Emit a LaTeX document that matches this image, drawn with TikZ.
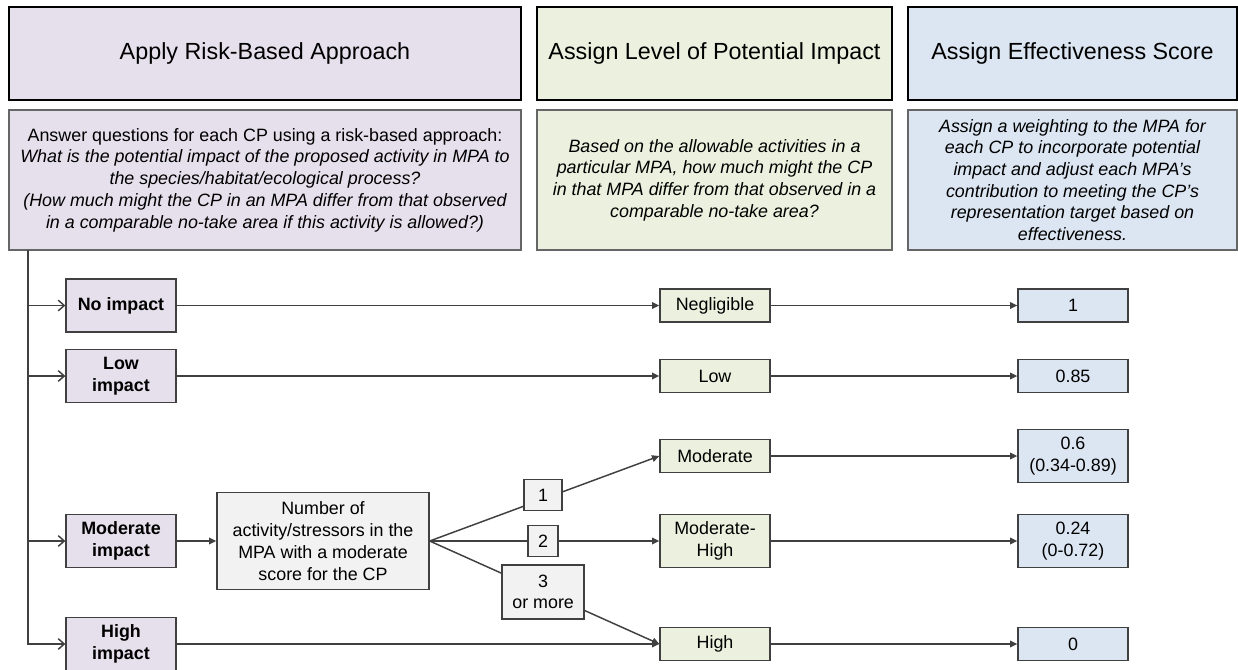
\documentclass[tikz,border=0pt]{standalone}
\usepackage{fontspec}
\setmainfont{Liberation Sans}
\usepackage{tikz}
\usetikzlibrary{arrows.meta, positioning}

\definecolor{riskfill}{HTML}{E5E0EC}
\definecolor{levelfill}{HTML}{EBF1DE}
\definecolor{scorefill}{HTML}{DCE6F2}
\definecolor{countfill}{HTML}{F2F2F2}
\definecolor{linegray}{HTML}{404040}

\begin{document}
\begin{tikzpicture}[
	x=0.75pt, y=-0.75pt,
	head/.style={draw=black, line width=1.8pt, align=center, minimum height=69.75pt, inner sep=2pt, font=\fontsize{17.5}{21}\selectfont},
	desc/.style={draw=black!60, line width=1.2pt, align=center, minimum height=105pt, inner sep=2pt, font=\fontsize{13.4}{16.3}\selectfont\itshape},
	cell/.style={draw=linegray, line width=1pt, align=center, inner sep=2pt, font=\fontsize{13.4}{16.3}\selectfont},
	impact/.style={cell, fill=riskfill, minimum width=82.5pt, minimum height=39.75pt, font=\fontsize{13.4}{16.3}\selectfont\bfseries},
	level/.style={cell, fill=levelfill, minimum width=82.5pt, minimum height=24.75pt},
	score/.style={cell, fill=scorefill, minimum width=82.5pt, minimum height=24.75pt},
	count/.style={cell, fill=countfill, minimum height=23.5pt},
	flow/.style={draw=linegray, line width=1.1pt, -{Triangle[length=5.5pt,width=5pt]}},
	branch/.style={draw=linegray, line width=1.1pt, -{Straight Barb[length=4.5pt,width=8pt]}}
	]
	
	\useasboundingbox (0,0) rectangle (1238,669);
	
	% ==================================================
	% Column headers
	% ==================================================
	\node[head, fill=riskfill, minimum width=384pt] (risk) at (265,53.5) {Apply Risk-Based Approach};
	\node[head, fill=levelfill, minimum width=266.25pt] (level) at (714.5,53.5) {Assign Level of Potential Impact};
	\node[head, fill=scorefill, minimum width=246.75pt] (eff) at (1072.5,53.5) {Assign Effectiveness Score};
	
	\node[desc, fill=riskfill, minimum width=384pt] (riskd) at (265,180)
	{{\upshape Answer questions for each CP using a risk-based approach:}\\
		What is the potential impact of the proposed activity in MPA to\\
		the species/habitat/ecological process?\\
		(How much might the CP in an MPA differ from that observed\\
		in a comparable no-take area if this activity is allowed?)};
	\node[desc, fill=levelfill, minimum width=266.25pt] (leveld) at (714.5,180)
	{Based on the allowable activities in a\\
		particular MPA, how much might the CP\\
		in that MPA differ from that observed in a\\
		comparable no-take area?};
	\node[desc, fill=scorefill, minimum width=246.75pt] (effd) at (1072.5,180)
	{Assign a weighting to the MPA for\\
		each CP to incorporate potential\\
		impact and adjust each MPA's\\
		contribution to meeting the CP's\\
		representation target based on\\
		effectiveness.};
	
	% ==================================================
	% Impact classes
	% ==================================================
	\coordinate (trunk) at (28,250);
	
	\node[impact] (noimp) at (121,305.5) {No impact};
	\node[impact] (lowimp) at (121,376) {Low\\impact};
	\node[impact] (modimp) at (121,541) {Moderate\\impact};
	\node[impact] (highimp) at (121,644) {High\\impact};
	
	\draw[branch] (trunk) |- (noimp);
	\draw[branch] (trunk) |- (lowimp);
	\draw[branch] (trunk) |- (modimp);
	\draw[branch] (trunk) |- (highimp);
	
	\node[cell, fill=countfill, minimum width=159pt, minimum height=72.75pt] (num) at (323,541)
	{Number of\\activity/stressors in the\\MPA with a moderate\\score for the CP};
	\draw[flow] (modimp) -- (num);
	
	% ==================================================
	% Levels of potential impact
	% ==================================================
	\node[level] (negl) at (715,305.5) {Negligible};
	\node[level] (low) at (715,376) {Low};
	\node[level] (mod) at (715,456) {Moderate};
	\node[level, minimum height=39.75pt] (modhigh) at (715,541) {Moderate-\\High};
	\node[level] (high) at (715,644) {High};
	
	\draw[flow] (noimp) -- (negl);
	\draw[flow] (lowimp) -- (low);
	\draw[flow] (highimp) -- (high);
	
	\draw[flow] (num.east) -- node[count, pos=0.494, yshift=3pt, minimum width=28.5pt] (one) {1} (mod.west);
	\draw[flow] (num.east) -- node[count, pos=0.494, minimum width=22.5pt] (two) {2} (modhigh.west);
	\draw[flow] (num.east) -- node[count, pos=0.494, minimum width=61.5pt, minimum height=40.5pt] (three) {3\\or more} (high.west);
	
	% ==================================================
	% Effectiveness scores
	% ==================================================
	\node[score] (s1) at (1073,305.5) {1};
	\node[score] (s085) at (1073,376) {0.85};
	\node[score, minimum height=39.75pt] (s06) at (1073,456) {0.6\\(0.34-0.89)};
	\node[score, minimum height=39.75pt] (s024) at (1073,541) {0.24\\(0-0.72)};
	\node[score] (s0) at (1073,644) {0};
	
	\draw[flow] (negl) -- (s1);
	\draw[flow] (low) -- (s085);
	\draw[flow] (mod) -- (s06);
	\draw[flow] (modhigh) -- (s024);
	\draw[flow] (high) -- (s0);
	
\end{tikzpicture}
\end{document}
